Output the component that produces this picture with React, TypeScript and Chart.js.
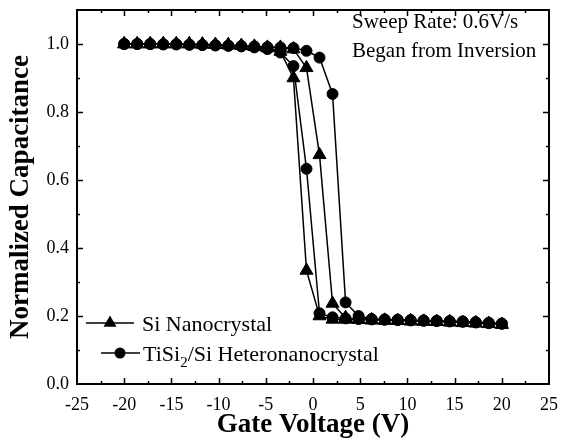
import React, { useEffect, useRef } from 'react';
import { Chart, registerables } from 'chart.js';

Chart.register(...registerables);

// Gate voltage sweep points (V)
const gateVoltage = [
  -20, -18.62, -17.24, -15.86, -14.48, -13.1, -11.72, -10.34, -8.97, -7.59,
  -6.21, -4.83, -3.45, -2.07, -0.69, 0.69, 2.07, 3.45, 4.83, 6.21,
  7.59, 8.97, 10.34, 11.72, 13.1, 14.48, 15.86, 17.24, 18.62, 20,
];

// Si Nanocrystal: left branch and right branch of the hysteresis loop
const siLeftBranch = [
  1.0, 1.0, 1.0, 1.0, 1.0, 1.0, 0.999, 0.998, 0.997, 0.995,
  0.992, 0.988, 0.978, 0.9, 0.334, 0.2, 0.19, 0.19, 0.189, 0.188,
  0.187, 0.186, 0.185, 0.184, 0.183, 0.182, 0.18, 0.179, 0.177, 0.175,
];
const siRightBranch = [
  1.0, 1.0, 1.0, 1.0, 1.0, 1.0, 0.999, 0.998, 0.997, 0.995,
  0.993, 0.99, 0.99, 0.985, 0.93, 0.674, 0.237, 0.195, 0.19, 0.188,
  0.187, 0.186, 0.185, 0.184, 0.183, 0.182, 0.18, 0.179, 0.177, 0.175,
];

// TiSi2/Si Heteronanocrystal
const tiLeftBranch = [
  1.0, 1.0, 1.0, 0.999, 0.999, 0.998, 0.997, 0.996, 0.995, 0.993,
  0.99, 0.985, 0.975, 0.935, 0.633, 0.208, 0.196, 0.193, 0.191, 0.19,
  0.189, 0.188, 0.187, 0.186, 0.185, 0.184, 0.183, 0.181, 0.179, 0.177,
];
const tiRightBranch = [
  1.0, 1.0, 1.0, 0.999, 0.999, 0.998, 0.997, 0.996, 0.995, 0.994,
  0.993, 0.991, 0.99, 0.988, 0.98, 0.96, 0.853, 0.24, 0.2, 0.191,
  0.19, 0.189, 0.188, 0.187, 0.186, 0.185, 0.184, 0.182, 0.18, 0.178,
];

const xTickValues = [-25, -20, -15, -10, -5, 0, 5, 10, 15, 20, 25];
const yTickValues = [0, 0.2, 0.4, 0.6, 0.8, 1.0];

const seriesNames = ['Si Nanocrystal', 'TiSi2/Si Heteronanocrystal'];
const noteLines = ['Sweep Rate: 0.6V/s', 'Began from Inversion'];

const SERIF = '"Liberation Serif", "Times New Roman", serif';

function loop(left: number[], right: number[]) {
  const pts = gateVoltage.map((x, i) => ({ x, y: left[i] }));
  for (let i = gateVoltage.length - 1; i >= 0; i--) pts.push({ x: gateVoltage[i], y: right[i] });
  return pts;
}

function drawMarker(ctx: CanvasRenderingContext2D, style: string, x: number, y: number, r: number) {
  ctx.beginPath();
  if (style === 'triangle') {
    let a = 0;
    ctx.moveTo(x + Math.sin(a) * r, y - Math.cos(a) * r);
    a += (2 * Math.PI) / 3;
    ctx.lineTo(x + Math.sin(a) * r, y - Math.cos(a) * r);
    a += (2 * Math.PI) / 3;
    ctx.lineTo(x + Math.sin(a) * r, y - Math.cos(a) * r);
    ctx.closePath();
  } else {
    ctx.arc(x, y, r, 0, Math.PI * 2);
  }
  ctx.fill();
}

const decorPlugin = {
  id: 'decor',
  afterDraw(chart: any) {
    const { ctx, chartArea: a, scales } = chart;
    const xs = scales.x;
    const ys = scales.y;
    ctx.save();
    ctx.strokeStyle = '#000';
    ctx.fillStyle = '#000';
    ctx.lineWidth = 2;
    ctx.strokeRect(a.left, a.top, a.right - a.left, a.bottom - a.top);

    ctx.lineWidth = 1.5;
    const tick = (vals: number[], len: number) => {
      for (const v of vals) {
        const px = Math.round(xs.getPixelForValue(v)) + 0.5;
        ctx.beginPath();
        ctx.moveTo(px, a.bottom); ctx.lineTo(px, a.bottom - len);
        ctx.moveTo(px, a.top); ctx.lineTo(px, a.top + len);
        ctx.stroke();
      }
    };
    const tickY = (vals: number[], len: number) => {
      for (const v of vals) {
        const py = Math.round(ys.getPixelForValue(v)) + 0.5;
        ctx.beginPath();
        ctx.moveTo(a.left, py); ctx.lineTo(a.left + len, py);
        ctx.moveTo(a.right, py); ctx.lineTo(a.right - len, py);
        ctx.stroke();
      }
    };
    const xMinor = xTickValues.slice(1).map((v, i) => (v + xTickValues[i]) / 2);
    const yMinor = yTickValues.slice(1).map((v, i) => (v + yTickValues[i]) / 2);
    tick(xTickValues.slice(1, -1), 6);
    tick(xMinor, 3);
    tickY(yTickValues.slice(1), 6);
    tickY(yMinor, 3);

    // notes
    ctx.font = `21px ${SERIF}`;
    ctx.textBaseline = 'alphabetic';
    ctx.textAlign = 'left';
    ctx.fillText(noteLines[0], a.left + 275, a.top + 18);
    ctx.fillText(noteLines[1], a.left + 275, a.top + 47);

    // legend
    ctx.lineWidth = 1.5;
    const row1 = a.bottom - 61;
    ctx.beginPath();
    ctx.moveTo(a.left + 9, row1); ctx.lineTo(a.left + 57, row1);
    ctx.stroke();
    drawMarker(ctx, 'triangle', a.left + 33, row1, 7.5);
    ctx.font = `22px ${SERIF}`;
    ctx.fillText(seriesNames[0], a.left + 65, row1 + 8);

    const row2 = a.bottom - 31;
    ctx.beginPath();
    ctx.moveTo(a.left + 24, row2); ctx.lineTo(a.left + 63, row2);
    ctx.stroke();
    drawMarker(ctx, 'circle', a.left + 43, row2, 5.5);
    const tx = a.left + 66;
    const ty = row2 + 8;
    const [head, tail] = seriesNames[1].split('2');
    ctx.fillText(head, tx, ty);
    const w1 = ctx.measureText(head).width;
    ctx.font = `15px ${SERIF}`;
    ctx.fillText('2', tx + w1, ty + 6);
    const w2 = ctx.measureText('2').width;
    ctx.font = `22px ${SERIF}`;
    ctx.fillText(tail, tx + w1 + w2, ty);
    ctx.restore();
  },
};

function zeroPad(s: any) {
  s.paddingTop = 0;
  s.paddingBottom = 0;
  s.paddingLeft = 0;
  s.paddingRight = 0;
}

export default function App() {
  const ref = useRef<HTMLCanvasElement | null>(null);
  useEffect(() => {
    document.body.style.margin = '0';
    const canvas = ref.current;
    if (!canvas) return;
    const chart = new Chart(canvas, {
      type: 'line',
      data: {
        datasets: [
          {
            label: seriesNames[0],
            data: loop(siLeftBranch, siRightBranch),
            borderColor: '#000',
            backgroundColor: '#000',
            borderWidth: 1.5,
            pointStyle: 'triangle',
            pointRadius: 7.5,
            pointBorderWidth: 1,
            tension: 0,
          },
          {
            label: seriesNames[1],
            data: loop(tiLeftBranch, tiRightBranch),
            borderColor: '#000',
            backgroundColor: '#000',
            borderWidth: 1.5,
            pointStyle: 'circle',
            pointRadius: 5.5,
            pointBorderWidth: 1,
            tension: 0,
          },
        ],
      },
      options: {
        responsive: false,
        animation: false,
        devicePixelRatio: 1,
        layout: { padding: { top: 10, right: 12, left: 0, bottom: 0 } },
        plugins: { legend: { display: false }, tooltip: { enabled: false } },
        scales: {
          x: {
            type: 'linear',
            min: -25,
            max: 25,
            grid: { display: false, drawTicks: false },
            border: { display: false },
            afterBuildTicks: (s: any) => { s.ticks = xTickValues.map((v) => ({ value: v })); },
            afterFit: (s: any) => { s.height = 57; zeroPad(s); },
            ticks: {
              color: '#000',
              padding: 10,
              maxRotation: 0,
              font: { family: SERIF, size: 18 },
              callback: (v: any) => String(v),
            },
            title: {
              display: true,
              text: 'Gate Voltage (V)',
              color: '#000',
              font: { family: SERIF, size: 27, weight: 'bold' },
              padding: { top: 0, bottom: 0 },
            },
          },
          y: {
            type: 'linear',
            min: 0,
            max: 1.1,
            grid: { display: false, drawTicks: false },
            border: { display: false },
            afterBuildTicks: (s: any) => { s.ticks = yTickValues.map((v) => ({ value: v })); },
            afterFit: (s: any) => { s.width = 77; zeroPad(s); },
            ticks: {
              color: '#000',
              padding: 8,
              font: { family: SERIF, size: 18 },
              callback: (v: any) => Number(v).toFixed(1),
            },
            title: {
              display: true,
              text: 'Normalized Capacitance',
              color: '#000',
              font: { family: SERIF, size: 27, weight: 'bold' },
              padding: { top: 5, bottom: 0 },
            },
          },
        },
      },
      plugins: [decorPlugin],
    } as any);
    return () => chart.destroy();
  }, []);
  return (
    <div style={{ position: 'absolute', left: 0, top: 0, width: 561, height: 441, background: '#fff' }}>
      <canvas ref={ref} width={561} height={441} />
    </div>
  );
}
